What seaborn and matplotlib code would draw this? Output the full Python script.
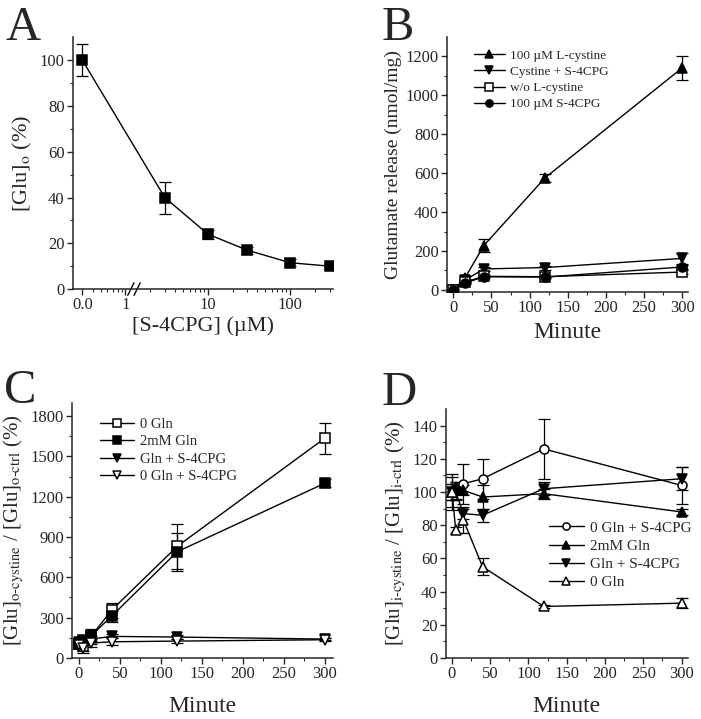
import numpy as np
import pandas as pd
import matplotlib
matplotlib.use('Agg')
import matplotlib.pyplot as plt
import seaborn as sns

sns.set_style('ticks')
plt.rcParams['font.family'] = ['Liberation Serif', 'DejaVu Serif']
plt.rcParams['mathtext.fontset'] = 'stix'

# ---- data ----
# A: dose response, "0.0" concentration drawn at 0.3 on the log axis
conc_a = [0.3, 3, 10, 30, 100, 300]
glu_a = [100, 40, 24, 17, 11.5, 10]
err_a = [7, 7, 2, 1.5, 1.5, 1]

# B: glutamate release vs time
t_b = [0, 15, 40, 120, 300]
b_cys = [0, 60, 228, 575, 1140]
b_cys_err = [5, 10, 35, 20, 60]
b_cys_s4 = [0, 50, 108, 115, 162]
b_cys_s4_err = [5, 8, 10, 10, 30]
b_wo = [0, 40, 70, 68, 92]
b_wo_err = [4, 5, 5, 5, 8]
b_s4 = [0, 35, 68, 66, 118]
b_s4_err = [4, 5, 5, 5, 10]

# C: [Glu]o-cystine / [Glu]o-ctrl
t_c = [0, 5, 15, 40, 120, 300]
c_0gln = [100, 90, 160, 355, 830, 1635]
c_0gln_err = [30, 40, 55, 55, 170, 115]
c_2mm = [105, 130, 165, 310, 790, 1300]
c_2mm_err = [30, 30, 40, 40, 140, 30]
c_gln_s4 = [120, 125, 140, 160, 155, 140]
c_gln_s4_err = [20, 20, 20, 15, 15, 10]
c_0gln_s4 = [95, 70, 110, 120, 125, 135]
c_0gln_s4_err = [25, 30, 30, 25, 15, 10]

# D: [Glu]i-cystine / [Glu]i-ctrl
t_d = [0, 5, 15, 40, 120, 300]
d_0gln_s4 = [100, 101, 105, 108, 126, 104]
d_0gln_s4_err = [9, 5, 12, 12, 18, 11]
d_2mm = [100, 103, 101, 97, 99, 88]
d_2mm_err = [5, 3, 3, 7, 3, 2]
d_gln_s4 = [100, 100, 87, 86, 102, 108]
d_gln_s4_err = [5, 5, 3, 4, 4, 7]
d_0gln = [100, 77, 83, 55, 31, 33]
d_0gln_err = [11, 2, 8, 5, 1, 3]

fig = plt.figure(figsize=(7.01, 7.19), dpi=100)
axA = fig.add_axes([0.104, 0.598, 0.371, 0.350])
axB = fig.add_axes([0.638, 0.594, 0.344, 0.355])
axC = fig.add_axes([0.103, 0.085, 0.372, 0.355])
axD = fig.add_axes([0.636, 0.085, 0.345, 0.346])


def series(ax, x, y, err, marker, open_marker, label=None):
    df = pd.DataFrame({'x': x, 'y': y})
    sns.lineplot(data=df, x='x', y='y', ax=ax, color='k', lw=1,
                 marker=marker, markersize=6.5,
                 markerfacecolor='white' if open_marker else 'k',
                 markeredgecolor='k', markeredgewidth=1.1, label=label,
                 zorder=3)
    ax.errorbar(x, y, yerr=err, fmt='none', ecolor='k', elinewidth=0.9,
                capsize=4, capthick=0.9, zorder=2)


def style(ax, fs=12):
    sns.despine(ax=ax)
    ax.tick_params(which='major', direction='out', length=4, width=1,
                   labelsize=fs, pad=2)
    ax.tick_params(which='minor', direction='out', length=2.5, width=0.8)
    for s in ax.spines.values():
        s.set_linewidth(1.1)
    ax.set_xlabel('')
    ax.set_ylabel('')


def legend(ax, anchor, fs=10):
    ax.legend(loc='upper left', bbox_to_anchor=anchor, frameon=False,
              fontsize=fs, handlelength=2.3, labelspacing=0.3,
              handletextpad=0.4, markerscale=0.8, borderaxespad=0)


# ---- A ----
series(axA, conc_a, glu_a, err_a, 's', False)
axA.set_xscale('log')
axA.set_xlim(0.23, 330)
axA.set_ylim(0, 110)
axA.set_xticks([0.3, 1, 10, 100])
axA.set_xticklabels(['0.0', '1', '10', '100'])
minors = [m * d for d in (0.1, 1, 10, 100) for m in range(2, 10)]
axA.set_xticks([m for m in minors if 0.4 <= m <= 300], minor=True)
axA.set_yticks(np.arange(0, 101, 20))
axA.set_yticks(np.arange(10, 110, 20), minor=True)
style(axA)
axA.set_ylabel(r'[Glu]$_\mathrm{o}$ (%)', fontsize=16, labelpad=4)
axA.set_xlabel('[S-4CPG] (µM)', fontsize=16, labelpad=2)
# axis break marks
for dx in (-0.012, 0.012):
    axA.plot([0.235 + dx - 0.012, 0.235 + dx + 0.012], [-0.025, 0.025],
             transform=axA.transAxes, color='k', lw=1, clip_on=False)

# ---- B ----
series(axB, t_b, b_cys, b_cys_err, '^', False, '100 µM L-cystine')
series(axB, t_b, b_cys_s4, b_cys_s4_err, 'v', False, 'Cystine + S-4CPG')
series(axB, t_b, b_wo, b_wo_err, 's', True, 'w/o L-cystine')
series(axB, t_b, b_s4, b_s4_err, 'o', False, '100 µM S-4CPG')
axB.set_xlim(-8, 308)
axB.set_ylim(-10, 1300)
axB.set_xticks(np.arange(0, 301, 50))
axB.set_xticks(np.arange(25, 300, 50), minor=True)
axB.set_yticks(np.arange(0, 1201, 200))
axB.set_yticks(np.arange(100, 1300, 200), minor=True)
style(axB)
axB.set_ylabel('Glutamate release (nmol/mg)', fontsize=14, labelpad=3)
axB.set_xlabel('Minute', fontsize=17, labelpad=4)
legend(axB, (0.09, 0.97), fs=9.5)

# ---- C ----
series(axC, t_c, c_0gln, c_0gln_err, 's', True, '0 Gln')
series(axC, t_c, c_2mm, c_2mm_err, 's', False, '2mM Gln')
series(axC, t_c, c_gln_s4, c_gln_s4_err, 'v', False, 'Gln + S-4CPG')
series(axC, t_c, c_0gln_s4, c_0gln_s4_err, 'v', True, '0 Gln + S-4CPG')
axC.set_xlim(-8, 310)
axC.set_ylim(0, 1900)
axC.set_xticks(np.arange(0, 301, 50))
axC.set_xticks(np.arange(25, 300, 50), minor=True)
axC.set_yticks(np.arange(0, 1801, 300))
axC.set_yticks(np.arange(150, 1900, 300), minor=True)
style(axC)
axC.set_ylabel('[Glu]$_\\mathrm{o\u2010cystine}$ / [Glu]$_\\mathrm{o\u2010ctrl}$ (%)',
               fontsize=15, labelpad=3)
axC.set_xlabel('Minute', fontsize=17, labelpad=10)
legend(axC, (0.085, 0.965), fs=10.5)

# ---- D ----
series(axD, t_d, d_0gln_s4, d_0gln_s4_err, 'o', True, '0 Gln + S-4CPG')
series(axD, t_d, d_2mm, d_2mm_err, '^', False, '2mM Gln')
series(axD, t_d, d_gln_s4, d_gln_s4_err, 'v', False, 'Gln + S-4CPG')
series(axD, t_d, d_0gln, d_0gln_err, '^', True, '0 Gln')
axD.set_xlim(-8, 308)
axD.set_ylim(0, 150)
axD.set_xticks(np.arange(0, 301, 50))
axD.set_xticks(np.arange(25, 300, 50), minor=True)
axD.set_yticks(np.arange(0, 141, 20))
axD.set_yticks(np.arange(10, 150, 20), minor=True)
style(axD)
axD.set_ylabel('[Glu]$_\\mathrm{i\u2010cystine}$ / [Glu]$_\\mathrm{i\u2010ctrl}$ (%)',
               fontsize=15, labelpad=3)
axD.set_xlabel('Minute', fontsize=17, labelpad=10)
legend(axD, (0.40, 0.575), fs=11)

# panel letters
for letter, x, y in [('A', 0.008, 0.944), ('B', 0.544, 0.944),
                     ('C', 0.005, 0.440), ('D', 0.544, 0.437)]:
    fig.text(x, y, letter, fontsize=35, va='baseline', ha='left')

fig.savefig('out.png', dpi=100)
